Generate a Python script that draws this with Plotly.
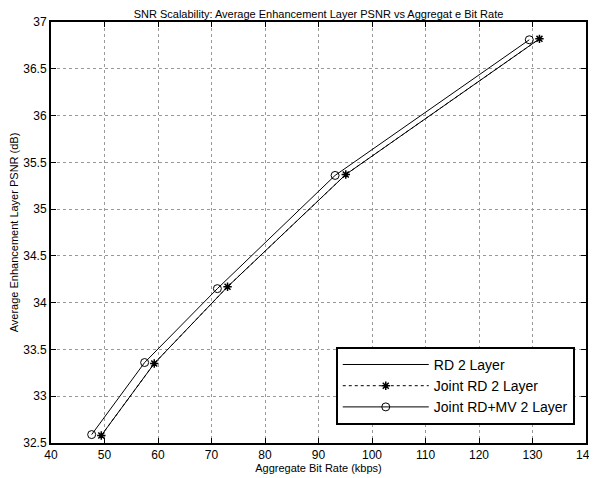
import plotly.graph_objects as go

# Data
rd_x = [49.4, 59.3, 73.0, 95.1, 131.3]
rd_y = [32.58, 33.35, 34.17, 35.37, 36.82]

joint_rd_x = [49.4, 59.3, 73.0, 95.1, 131.3]
joint_rd_y = [32.58, 33.35, 34.17, 35.37, 36.82]

joint_mv_x = [47.6, 57.5, 71.1, 93.1, 129.4]
joint_mv_y = [32.59, 33.36, 34.15, 35.36, 36.81]

x_ticks = [40, 50, 60, 70, 80, 90, 100, 110, 120, 130, 140]
y_ticks = [32.5, 33, 33.5, 34, 34.5, 35, 35.5, 36, 36.5, 37]

FONT = "Liberation Sans, Arial, Helvetica, sans-serif"

fig = go.Figure()
fig.add_trace(go.Scatter(x=rd_x, y=rd_y, mode="lines", name="RD 2 Layer",
                         line=dict(color="black", width=1)))
fig.add_trace(go.Scatter(x=joint_rd_x, y=joint_rd_y, mode="lines+markers", name="Joint RD 2 Layer",
                         line=dict(color="black", width=1, dash="dot"),
                         marker=dict(symbol="asterisk", size=7, color="black",
                                     line=dict(color="black", width=1.5))))
fig.add_trace(go.Scatter(x=joint_mv_x, y=joint_mv_y, mode="lines+markers", name="Joint RD+MV 2 Layer",
                         line=dict(color="black", width=1),
                         marker=dict(symbol="circle-open", size=8, color="black",
                                     line=dict(color="black", width=1))))

axis_common = dict(
    showline=True, linecolor="black", linewidth=2, mirror="ticks",
    ticks="inside", ticklen=5, tickcolor="black", tickwidth=1,
    showgrid=True, gridcolor="#999999", griddash="dot", gridwidth=1,
    zeroline=False, tickfont=dict(family=FONT, size=12, color="black"),
    automargin=False,
)

fig.update_xaxes(range=[40, 140], tickvals=x_ticks, ticktext=[str(v) for v in x_ticks],
                 title=dict(text="Aggregate Bit Rate (kbps)", font=dict(family=FONT, size=11, color="black"),
                            standoff=1),
                 **axis_common)
fig.update_yaxes(range=[32.5, 37], tickvals=y_ticks, ticktext=[f"{v:g}" for v in y_ticks],
                 title=dict(text="Average Enhancement Layer PSNR (dB)",
                            font=dict(family=FONT, size=11, color="black"), standoff=6),
                 **axis_common)

# page body has an 8px default margin; size the figure to fit the 597x478 window
fig.update_layout(
    width=589, height=470,
    margin=dict(l=43, r=11, t=14, b=35),
    paper_bgcolor="white", plot_bgcolor="white",
    title=dict(text="SNR Scalability: Average Enhancement Layer PSNR vs Aggregat e Bit Rate",
               font=dict(family=FONT, size=11, color="black"), x=0.5, xanchor="center",
               xref="paper", y=0.997, yanchor="top", pad=dict(t=1)),
    legend=dict(x=0.979, xanchor="right", y=0.043, yanchor="bottom",
                bgcolor="white", bordercolor="black", borderwidth=2,
                font=dict(family=FONT, size=14, color="black"),
                tracegroupgap=0, itemwidth=86),
    showlegend=True,
)

fig.write_html("out.html")
